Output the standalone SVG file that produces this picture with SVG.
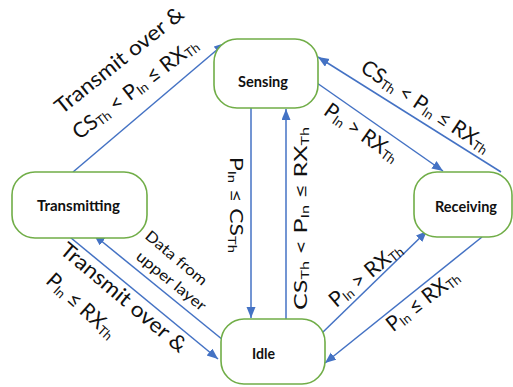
<svg xmlns="http://www.w3.org/2000/svg" width="513" height="387" viewBox="0 0 513 387">
<defs>
<marker id="ah" markerUnits="userSpaceOnUse" markerWidth="12" markerHeight="10" refX="11" refY="4.5" orient="auto">
<path d="M0,0 L11,4.5 L0,9 z" fill="#4472C4"/>
</marker>
</defs>
<style>
.node rect{fill:#fff;stroke:#70AD47;stroke-width:1.6}
.node text{font-family:Lato,"Liberation Sans",sans-serif;font-weight:bold;font-size:16px;fill:#111;text-anchor:middle}
.edges line{stroke:#4472C4;stroke-width:1.5;marker-end:url(#ah)}
.lbl{font-family:Lato,"Liberation Sans",sans-serif;font-size:21px;fill:#111;text-anchor:middle}
.vl{font-size:17px}
.sm{font-size:15px}
.sub{font-size:13px}
.vl .sub{font-size:11px}
</style>
<rect width="513" height="387" fill="#fff"/>
<g class="edges">
<line x1="73" y1="172" x2="225" y2="43"/>
<line x1="251" y1="108" x2="251" y2="318"/>
<line x1="286" y1="319" x2="286" y2="109"/>
<line x1="317" y1="83" x2="443" y2="171"/>
<line x1="501" y1="172" x2="318" y2="57"/>
<line x1="322" y1="333" x2="427" y2="231"/>
<line x1="482" y1="237" x2="325" y2="363"/>
<line x1="65" y1="233" x2="218" y2="359"/>
<line x1="223" y1="340" x2="94" y2="235"/>
</g>
<g id="sensing" class="node"><rect x="214" y="39" width="104" height="69" rx="23" ry="23"/><text x="263" y="87" textLength="50" lengthAdjust="spacingAndGlyphs">Sensing</text></g>
<g id="transmitting" class="node"><rect x="12" y="172" width="135" height="66" rx="23" ry="23"/><text x="78.5" y="211" textLength="83" lengthAdjust="spacingAndGlyphs">Transmitting</text></g>
<g id="idle" class="node"><rect x="221" y="319" width="104" height="65" rx="23" ry="23"/><text x="263.5" y="359" textLength="23" lengthAdjust="spacingAndGlyphs">Idle</text></g>
<g id="receiving" class="node"><rect x="414" y="172" width="98" height="65" rx="23" ry="23"/><text x="466" y="212" textLength="62" lengthAdjust="spacingAndGlyphs">Receiving</text></g>
<g id="labels">
<text class="lbl" transform="translate(123.7,65.7) rotate(-38.5)" textLength="158" lengthAdjust="spacingAndGlyphs">Transmit over &amp;</text>
<text class="lbl" transform="translate(139.6,94) rotate(-37.5)" textLength="152" lengthAdjust="spacingAndGlyphs">CS<tspan class="sub" dy="2">Th</tspan><tspan dy="-2"> &lt; P</tspan><tspan class="sub" dy="2">In</tspan><tspan dy="-2"> ≤ RX</tspan><tspan class="sub" dy="2">Th</tspan></text>
<text class="lbl vl" transform="translate(230,205) rotate(90)" textLength="96" lengthAdjust="spacingAndGlyphs">P<tspan class="sub" dy="2">In</tspan><tspan dy="-2"> ≤ CS</tspan><tspan class="sub" dy="2">Th</tspan></text>
<text class="lbl vl" transform="translate(307,218.5) rotate(-90)" textLength="183" lengthAdjust="spacingAndGlyphs">CS<tspan class="sub" dy="2">Th</tspan><tspan dy="-2"> &lt; P</tspan><tspan class="sub" dy="2">In</tspan><tspan dy="-2"> ≤ RX</tspan><tspan class="sub" dy="2">Th</tspan></text>
<text class="lbl" transform="translate(357.6,138.4) rotate(35)" textLength="86" lengthAdjust="spacingAndGlyphs">P<tspan class="sub" dy="2">In</tspan><tspan dy="-2"> &gt; RX</tspan><tspan class="sub" dy="2">Th</tspan></text>
<text class="lbl" transform="translate(421.7,112.5) rotate(33.5)" textLength="150" lengthAdjust="spacingAndGlyphs">CS<tspan class="sub" dy="2">Th</tspan><tspan dy="-2"> &lt; P</tspan><tspan class="sub" dy="2">In</tspan><tspan dy="-2"> ≤ RX</tspan><tspan class="sub" dy="2">Th</tspan></text>
<text class="lbl" transform="translate(370,280) rotate(-40)" textLength="88" lengthAdjust="spacingAndGlyphs">P<tspan class="sub" dy="2">In</tspan><tspan dy="-2"> &gt; RX</tspan><tspan class="sub" dy="2">Th</tspan></text>
<text class="lbl" transform="translate(427,306) rotate(-38)" textLength="86" lengthAdjust="spacingAndGlyphs">P<tspan class="sub" dy="2">In</tspan><tspan dy="-2"> ≤ RX</tspan><tspan class="sub" dy="2">Th</tspan></text>
<text class="lbl" transform="translate(119,303) rotate(40)" textLength="158" lengthAdjust="spacingAndGlyphs">Transmit over &amp;</text>
<text class="lbl" transform="translate(76.6,311) rotate(42)" textLength="86" lengthAdjust="spacingAndGlyphs">P<tspan class="sub" dy="2">In</tspan><tspan dy="-2"> ≤ RX</tspan><tspan class="sub" dy="2">Th</tspan></text>
<text class="lbl sm" transform="translate(173,262) rotate(40)" textLength="76" lengthAdjust="spacingAndGlyphs">Data from</text>
<text class="lbl sm" transform="translate(168,285) rotate(39)" textLength="85" lengthAdjust="spacingAndGlyphs">upper layer</text>
</g>
</svg>
